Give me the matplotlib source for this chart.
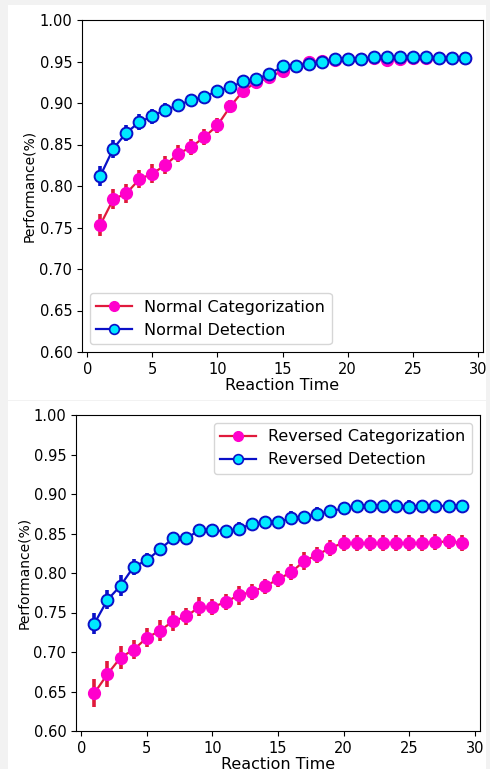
import numpy as np
import matplotlib
matplotlib.use('Agg')
import matplotlib.pyplot as plt
from matplotlib.patches import Rectangle
from matplotlib.lines import Line2D

plt.rc('font', size=10.5)
plt.rc('legend', fontsize=11.5)

# Data
reaction_time = list(range(1, 30))

normal_cat = [0.753, 0.784, 0.791, 0.808, 0.815, 0.825, 0.839, 0.847, 0.859, 0.873,
              0.896, 0.915, 0.925, 0.931, 0.939, 0.944, 0.950, 0.951, 0.952, 0.953,
              0.953, 0.954, 0.952, 0.953, 0.954, 0.954, 0.954, 0.954, 0.954]
normal_cat_err = [0.013, 0.012, 0.012, 0.011, 0.011, 0.011, 0.010, 0.010, 0.010, 0.009,
                  0.008, 0.007, 0.006, 0.005, 0.005, 0.004, 0.004, 0.004, 0.004, 0.004,
                  0.004, 0.004, 0.004, 0.004, 0.004, 0.004, 0.004, 0.004, 0.004]
normal_det = [0.812, 0.845, 0.864, 0.877, 0.884, 0.892, 0.897, 0.904, 0.907, 0.915,
              0.919, 0.926, 0.929, 0.935, 0.944, 0.944, 0.947, 0.949, 0.953, 0.953,
              0.953, 0.955, 0.955, 0.955, 0.955, 0.955, 0.954, 0.954, 0.954]
normal_det_err = [0.012, 0.011, 0.010, 0.010, 0.009, 0.008, 0.008, 0.007, 0.007, 0.007,
                  0.006, 0.006, 0.005, 0.005, 0.004, 0.004, 0.004, 0.004, 0.004, 0.004,
                  0.004, 0.004, 0.004, 0.004, 0.004, 0.004, 0.004, 0.004, 0.004]

reversed_cat = [0.648, 0.672, 0.693, 0.703, 0.718, 0.727, 0.739, 0.745, 0.757, 0.757,
                0.763, 0.772, 0.776, 0.783, 0.792, 0.801, 0.815, 0.823, 0.832, 0.838,
                0.838, 0.838, 0.838, 0.838, 0.838, 0.838, 0.839, 0.840, 0.838]
reversed_cat_err = [0.018, 0.016, 0.015, 0.012, 0.012, 0.013, 0.013, 0.011, 0.012, 0.010,
                    0.010, 0.012, 0.010, 0.010, 0.010, 0.010, 0.011, 0.010, 0.010, 0.010,
                    0.010, 0.010, 0.010, 0.010, 0.010, 0.010, 0.010, 0.010, 0.010]
reversed_det = [0.736, 0.766, 0.784, 0.808, 0.816, 0.830, 0.844, 0.844, 0.854, 0.854,
                0.853, 0.856, 0.862, 0.864, 0.864, 0.870, 0.871, 0.875, 0.878, 0.882,
                0.885, 0.885, 0.885, 0.885, 0.884, 0.885, 0.885, 0.885, 0.885]
reversed_det_err = [0.013, 0.012, 0.013, 0.010, 0.009, 0.008, 0.008, 0.008, 0.008, 0.008,
                    0.007, 0.008, 0.008, 0.008, 0.008, 0.009, 0.008, 0.008, 0.008, 0.008,
                    0.008, 0.008, 0.008, 0.008, 0.008, 0.008, 0.008, 0.008, 0.008]

yticks = np.arange(0.60, 1.001, 0.05)

red_line = '#e01a3c'
red_face = '#ff00cc'
blue_line = '#0a10c8'
blue_face = '#00e8ff'

fig = plt.figure(figsize=(4.9, 7.69), dpi=100, facecolor='#f2f2f2')
# white panel backgrounds
fig.patches.append(Rectangle((8/490, 1-400/769), 478/490, 395/769,
                             transform=fig.transFigure, facecolor='white',
                             edgecolor='none', zorder=-5))
fig.patches.append(Rectangle((8/490, 0), 478/490, 368/769,
                             transform=fig.transFigure, facecolor='white',
                             edgecolor='none', zorder=-5))

ax1 = fig.add_axes([82/490, 1-352/769, 401/490, 332/769])
ax2 = fig.add_axes([76/490, 1-731/769, 404/490, 316/769])


def draw(ax, cat, cat_err, det, det_err, labels, loc):
    ax.errorbar(reaction_time, cat, yerr=cat_err, color=red_line, ecolor=red_line,
                elinewidth=2.6, lw=1.6, marker='o', markersize=8.5,
                markerfacecolor=red_face, markeredgecolor=red_face,
                markeredgewidth=1.0)
    ax.errorbar(reaction_time, det, yerr=det_err, color=blue_line, ecolor=blue_line,
                elinewidth=2.6, lw=1.6, marker='o', markersize=8.5,
                markerfacecolor=blue_face, markeredgecolor=blue_line,
                markeredgewidth=1.4)
    ax.set_ylim(0.60, 1.00)
    ax.set_yticks(yticks)
    ax.set_xticks(range(0, 31, 5))
    ax.set_xlabel('Reaction Time', labelpad=1, fontsize=11.5)
    ax.set_ylabel('Performance(%)', labelpad=2, fontsize=10)
    handles = [Line2D([], [], color=red_line, lw=1.6, marker='o', markersize=7,
                      markerfacecolor=red_face, markeredgecolor=red_face),
               Line2D([], [], color=blue_line, lw=1.6, marker='o', markersize=7,
                      markerfacecolor=blue_face, markeredgecolor=blue_line,
                      markeredgewidth=1.2)]
    ax.legend(handles, labels, loc=loc, handlelength=2.2)


draw(ax1, normal_cat, normal_cat_err, normal_det, normal_det_err,
     ['Normal Categorization', 'Normal Detection'], 'lower left')
draw(ax2, reversed_cat, reversed_cat_err, reversed_det, reversed_det_err,
     ['Reversed Categorization', 'Reversed Detection'], 'upper right')

plt.savefig('out.png', dpi=100, facecolor=fig.get_facecolor())
